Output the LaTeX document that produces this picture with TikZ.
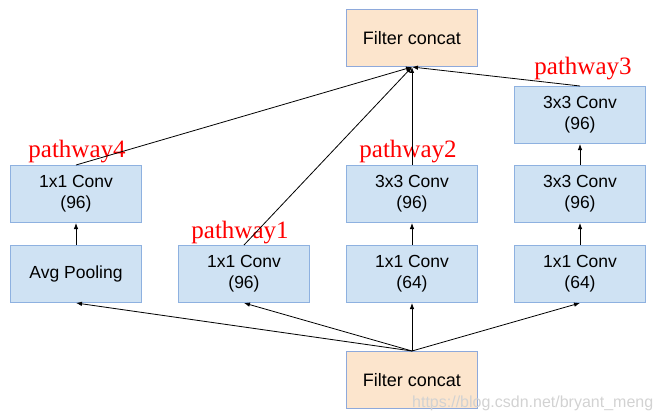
\documentclass[tikz,border=0pt]{standalone}
\usepackage{fontspec}
\setmainfont{Liberation Sans}
\newfontfamily\labelfont{Liberation Serif}
\usetikzlibrary{arrows.meta}
\definecolor{boxfill}{HTML}{CFE2F3}
\definecolor{boxline}{HTML}{8EB1E0}
\definecolor{catfill}{HTML}{FCE5CD}
\definecolor{catline}{HTML}{8EA9DB}
\begin{document}
\begin{tikzpicture}[x=1pt,y=-1pt,
  convbox/.style={draw=boxline,fill=boxfill,line width=1pt,minimum width=131pt,minimum height=57pt,inner sep=0pt,align=center,font=\fontsize{17.5}{21}\selectfont},
  catbox/.style={draw=catline,fill=catfill,line width=1pt,minimum width=131pt,minimum height=57pt,inner sep=0pt,align=center,font=\fontsize{18}{21}\selectfont},
  pw/.style={text=red,anchor=base,inner sep=0pt,font=\labelfont\fontsize{25}{25}\selectfont},
  arr/.style={-{Latex[length=6pt,width=4.5pt]},line width=0.8pt,black}]
\useasboundingbox (0,0) rectangle (659,420);
\node[catbox] (top) at (412,38) {Filter concat};
\node[catbox] (bot) at (412,380) {Filter concat};
\node[convbox] (c3) at (580,115) {3x3 Conv\\(96)};
\node[convbox] (a2) at (76,194) {1x1 Conv\\(96)};
\node[convbox] (b2) at (412,194) {3x3 Conv\\(96)};
\node[convbox] (c2) at (580,194) {3x3 Conv\\(96)};
\node[convbox] (a1) at (76,274) {Avg Pooling};
\node[convbox] (p1) at (244,274) {1x1 Conv\\(96)};
\node[convbox] (b1) at (412,274) {1x1 Conv\\(64)};
\node[convbox] (c1) at (580,274) {1x1 Conv\\(64)};
\node[pw] (l4) at (77,157) {pathway4};
\node[pw] (l1) at (240,238) {pathway1};
\node[pw] (l2) at (408,157) {pathway2};
\node[pw] (l3) at (583,75) {pathway3};
% bottom concat to first row
\foreach \n in {a1,p1,b1,c1} \draw[arr] (bot.north) -- (\n.south);
% vertical chains
\draw[arr] (a1.north) -- (a2.south);
\draw[arr] (b1.north) -- (b2.south);
\draw[arr] (c1.north) -- (c2.south);
\draw[arr] (c2.north) -- (c3.south);
% to top concat
\foreach \n in {a2,p1,b2,c3} \draw[arr] (\n.north) -- (top.south);
\node[text=gray!35,anchor=base west,inner sep=0pt,font=\fontsize{16}{16}\selectfont] (wm) at (412,407) {https://blog.csdn.net/bryant\_meng};
\end{tikzpicture}
\end{document}
